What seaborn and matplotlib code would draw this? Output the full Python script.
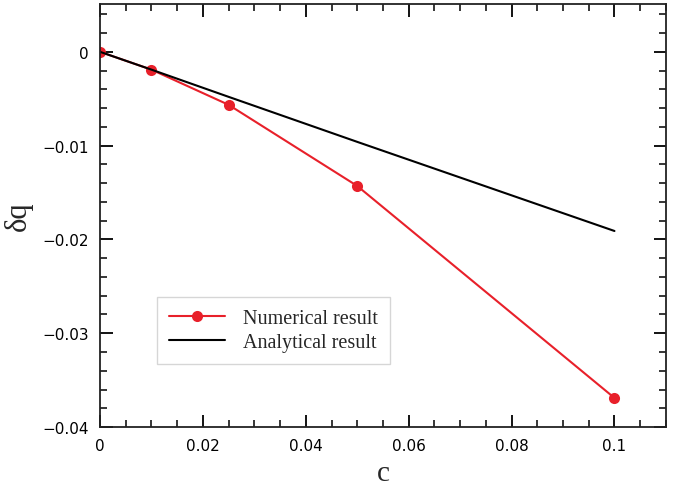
import numpy as np
import pandas as pd
import matplotlib
matplotlib.use("Agg")
import matplotlib.pyplot as plt
import seaborn as sns
from matplotlib.ticker import MultipleLocator

# values
c_num = [0.0, 0.01, 0.025, 0.05, 0.1]
dq_num = [0.0, -0.0019, -0.00565, -0.0143, -0.0369]
c_ana = [0.0, 0.01, 0.025, 0.05, 0.1]
dq_ana = [0.0, -0.0019, -0.0048, -0.0096, -0.0191]

num = pd.DataFrame({"c": c_num, "dq": dq_num})
ana = pd.DataFrame({"c": c_ana, "dq": dq_ana})

sns.set_style("ticks")
plt.rcParams["font.family"] = ["DejaVu Sans"]

fig = plt.figure(figsize=(6.74, 4.89), dpi=100)
ax = fig.add_axes([0.1484, 0.1247, 0.8396, 0.8651])

red = "#e8202a"
sns.lineplot(data=num, x="c", y="dq", ax=ax, color=red, lw=1.5, marker="o",
             markersize=8, markeredgewidth=0, label="Numerical result")
sns.lineplot(data=ana, x="c", y="dq", ax=ax, color="black", lw=1.5,
             label="Analytical result")

ax.set_xlim(0, 0.11)
ax.set_ylim(-0.04, 0.0051)
ax.xaxis.set_major_locator(MultipleLocator(0.02))
ax.xaxis.set_minor_locator(MultipleLocator(0.005))
ax.yaxis.set_major_locator(MultipleLocator(0.01))
ax.yaxis.set_minor_locator(MultipleLocator(0.002))
ax.set_xticks([0, 0.02, 0.04, 0.06, 0.08, 0.1])
ax.set_xticklabels(["0", "0.02", "0.04", "0.06", "0.08", "0.1"])
ax.set_yticks([0, -0.01, -0.02, -0.03, -0.04])
ax.set_yticklabels(["0", "\u22120.01", "\u22120.02", "\u22120.03", "\u22120.04"])

ax.tick_params(which="both", direction="in", top=True, right=True,
               labelsize=11, colors="black", pad=8)
ax.tick_params(which="major", length=9, width=1.3)
ax.tick_params(which="minor", length=5, width=1.1)
for s in ax.spines.values():
    s.set_linewidth(1.3)
    s.set_color("#222222")

serif = ["Liberation Serif", "DejaVu Serif"]
ax.set_xlabel("c", fontsize=21, family=serif, labelpad=5)
ax.set_ylabel("δq", fontsize=22, family=serif, labelpad=7)

leg = ax.legend(loc="lower left", bbox_to_anchor=(0.1, 0.148), fancybox=False,
                frameon=True, prop={"family": serif, "size": 14.5},
                handlelength=2.8, handletextpad=0.9, borderpad=0.6,
                labelspacing=0.25, borderaxespad=0)
leg.get_frame().set_edgecolor("#cccccc")
leg.get_frame().set_linewidth(1.0)

fig.savefig("out.png", dpi=100)
